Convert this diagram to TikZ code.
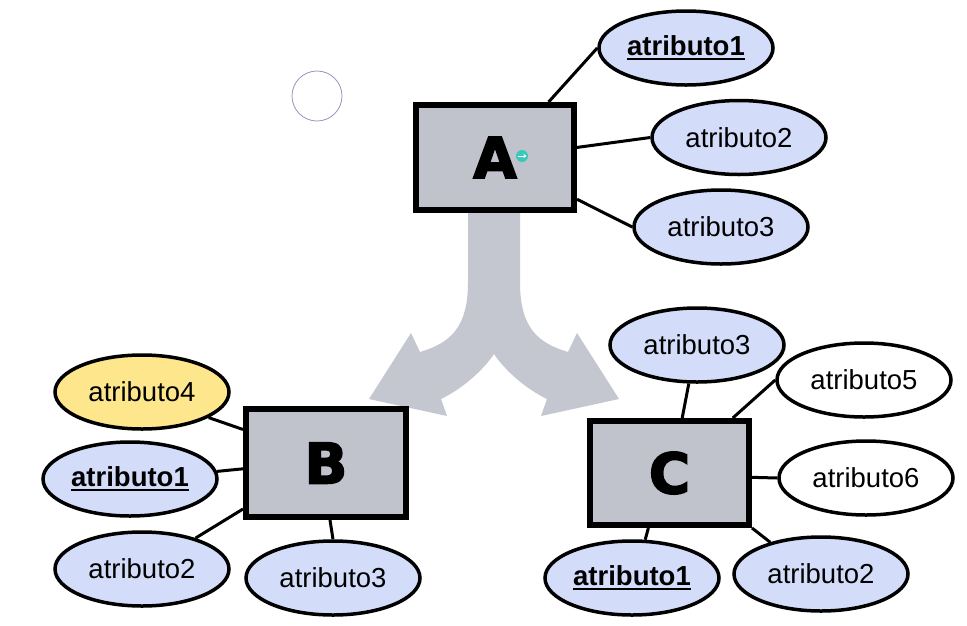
\documentclass[tikz,border=0pt]{standalone}
\usepackage{fontspec}
\setmainfont{Liberation Sans}
\newfontfamily\heavyfont{DejaVu Sans}[BoldFeatures={FakeBold=3}]
\usetikzlibrary{shapes.geometric,arrows.meta}
\definecolor{attrblue}{RGB}{211,221,250}
\definecolor{attryellow}{RGB}{253,230,140}
\definecolor{boxgray}{RGB}{192,195,203}
\definecolor{arrowgray}{RGB}{196,199,207}
\definecolor{cursorteal}{RGB}{60,200,185}
\definecolor{circlegray}{RGB}{150,150,190}
\newcommand{\keyattr}[1]{\setbox0\hbox{\bfseries #1}\rlap{\rule[-4.5pt]{\wd0}{2.4pt}}\box0}
\begin{document}
\begin{tikzpicture}[x=1pt,y=-1pt,
  entity/.style={draw, line width=6pt, fill=boxgray, inner sep=0pt,
    font=\heavyfont\bfseries\fontsize{56}{60}\selectfont},
  attr/.style={ellipse, draw, line width=3.5pt, fill=attrblue, inner sep=0pt,
    minimum width=174pt, minimum height=74pt, font=\fontsize{27.5}{30}\selectfont},
  weak/.style={attr, fill=white},
  extra/.style={attr, fill=attryellow},
  link/.style={line width=3pt}]
\useasboundingbox (0,0) rectangle (967,625);
\fill[white] (0,0) rectangle (967,625);

% split arrow
\fill[arrowgray] (468,205) -- (468,282) .. controls (468,328) and (450,343) .. (420,352)
  -- (411,333) -- (369,399) -- (447,416) -- (441,399)
  .. controls (460,390) and (482,372) .. (494,354)
  .. controls (506,372) and (528,390) .. (547,399)
  -- (541,416) -- (619,399) -- (577,333) -- (568,352)
  .. controls (538,343) and (520,328) .. (520,282) -- (520,205) -- cycle;

% entities
\node[entity, minimum width=158pt, minimum height=105pt] (A) at (495,157.5) {A};
\node[entity, minimum width=160pt, minimum height=108pt] (B) at (326,463) {B};
\node[entity, minimum width=159pt, minimum height=104pt] (C) at (669.5,473) {C};

% attributes of A
\node[attr] (A1) at (686,48) {\keyattr{atributo1}};
\node[attr] (A2) at (739,137.5) {atributo2};
\node[attr] (A3) at (721,227) {atributo3};

% attributes of B
\node[extra] (B4) at (142,392) {atributo4};
\node[attr] (B1) at (130,479) {\keyattr{atributo1}};
\node[attr] (B2) at (142,569) {atributo2};
\node[attr] (B3) at (333,578) {atributo3};

% attributes of C
\node[attr] (C3) at (697,345) {atributo3};
\node[weak] (C5) at (864,380) {atributo5};
\node[weak] (C6) at (866,478) {atributo6};
\node[attr] (C1) at (632,578) {\keyattr{atributo1}};
\node[attr] (C2) at (821,574) {atributo2};

% connectors
\draw[link] (A.46) -- (A1.west);
\draw[link] (A.7) -- (A2.west);
\draw[link] (A.-27) -- (A3.west);

\draw[link] (B.158) -- (B4.-21);
\draw[link] (B.184) -- (B1.5);
\draw[link] (B.209) -- (B2.30);
\draw[link] (B.-86) -- (B3.north);

\draw[link] (C.77) -- (C3.-102);
\draw[link] (C.41) -- (C5.west);
\draw[link] (C.-3.5) -- (C6.west);
\draw[link] (C.-111) -- (C1.71);
\draw[link] (C.south east) -- (C2.148);

% marks
\node[circle, draw=circlegray, line width=0.8pt, minimum size=50pt, inner sep=0pt] (ring) at (317,96) {};
\node[circle, fill=cursorteal, minimum size=12pt, inner sep=0pt] (cursor) at (522,156) {};
\coordinate (cs) at (517.5,156);
\coordinate (ce) at (526.5,156);
\draw[white, line width=1pt, -{Stealth[length=3pt,width=4pt]}] (cs) -- (ce);
\end{tikzpicture}
\end{document}
